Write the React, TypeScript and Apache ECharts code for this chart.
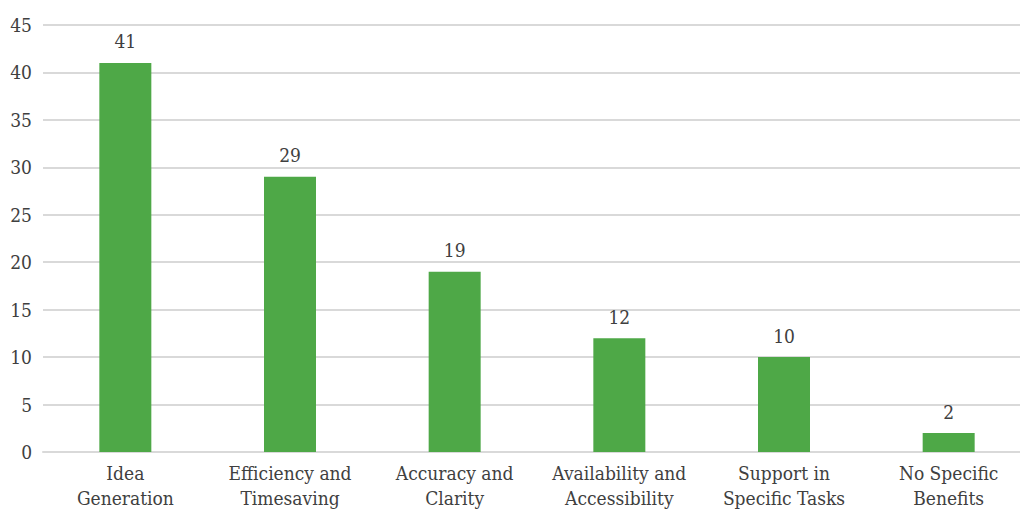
import React, { useEffect, useRef } from "react";
import * as echarts from "echarts";

const categories = [
  "Idea\nGeneration",
  "Efficiency and\nTimesaving",
  "Accuracy and\nClarity",
  "Availability and\nAccessibility",
  "Support in\nSpecific Tasks",
  "No Specific\nBenefits",
];
const values = [41, 29, 19, 12, 10, 2];
const yMin = 0;
const yMax = 45;
const yInterval = 5;

const FONT = "DejaVu Serif Condensed";
const TEXT = "#404040";

export default function App() {
  const ref = useRef<HTMLDivElement>(null);
  useEffect(() => {
    if (!ref.current) return;
    const chart = echarts.init(ref.current, undefined, { renderer: "svg" });
    chart.setOption({
      animation: false,
      grid: { left: 43, right: 0, top: 25, bottom: 54, containLabel: false },
      xAxis: {
        type: "category",
        data: categories,
        axisTick: { show: false },
        axisLine: { lineStyle: { color: "#d9d9d9", width: 2 } },
        axisLabel: {
          color: TEXT,
          fontFamily: FONT,
          fontSize: 19,
          lineHeight: 25,
          margin: 8,
          interval: 0,
        },
      },
      yAxis: {
        type: "value",
        min: yMin,
        max: yMax,
        interval: yInterval,
        axisLine: { show: false },
        axisTick: { show: false },
        splitLine: { lineStyle: { color: "#d9d9d9", width: 2 } },
        axisLabel: { color: TEXT, fontFamily: FONT, fontSize: 19, margin: 11 },
      },
      series: [
        {
          type: "bar",
          data: values,
          barWidth: 52,
          itemStyle: { color: "#4EA847" },
          label: {
            show: true,
            position: "top",
            distance: 12,
            color: TEXT,
            fontFamily: FONT,
            fontSize: 19,
          },
        },
      ],
    });
    return () => chart.dispose();
  }, []);
  return (
    <div
      style={{ position: "absolute", left: 0, top: 0, width: 1020, height: 510, overflow: "hidden", background: "#fff" }}
    >
      <div ref={ref} style={{ width: 1031, height: 510 }} />
    </div>
  );
}
